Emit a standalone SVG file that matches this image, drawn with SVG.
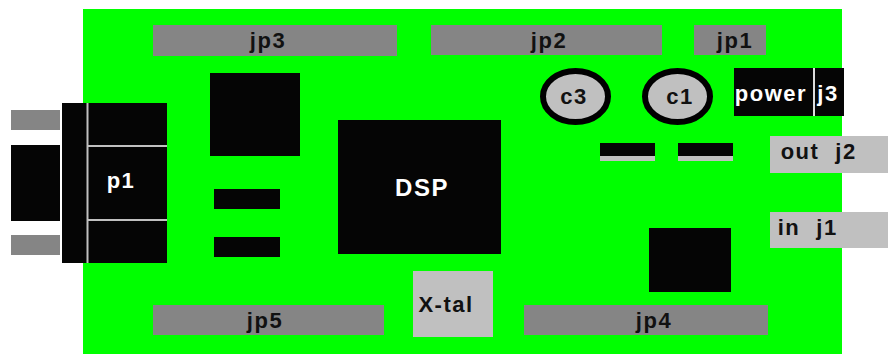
<svg xmlns="http://www.w3.org/2000/svg" width="888" height="354" viewBox="0 0 888 354">
<style>
text{font-family:"Liberation Sans",Arial,sans-serif;font-weight:bold;font-size:22px;letter-spacing:1.500px;text-anchor:middle;fill:#111}
.w{fill:#fff}
.k{fill:#050505}
.g{fill:#858585}
.l{fill:#c0c0c0}
.c{fill:#c0c0c0;stroke:#000;stroke-width:6}
.s{stroke:#c0c0c0;stroke-width:2;fill:none}
</style>
<rect width="888" height="354" fill="#fff"/>
<rect id="board" x="83" y="9" width="759" height="345" fill="#00ff00"/>
<g id="jp3"><rect class="g" x="153" y="25" width="244" height="31"/><text x="268" y="48">jp3</text></g>
<g id="jp2"><rect class="g" x="431" y="25" width="231" height="30"/><text x="549" y="48">jp2</text></g>
<g id="jp1"><rect class="g" x="694" y="25" width="72" height="30"/><text x="735" y="48">jp1</text></g>
<g id="c3"><ellipse class="c" cx="575.500" cy="96.500" rx="32.500" ry="25.500"/><text x="574" y="104">c3</text></g>
<g id="c1"><ellipse class="c" cx="677.500" cy="96.500" rx="32.500" ry="25.500"/><text x="680" y="104">c1</text></g>
<g id="j3"><rect class="k" x="734" y="68" width="110" height="48"/><line x1="814" y1="68" x2="814" y2="116" stroke="#ddd" stroke-width="2"/><text class="w" x="771" y="101">power</text><text class="w" x="828" y="101">j3</text></g>
<g id="cap1"><rect class="l" x="600" y="143" width="55" height="18"/><rect class="k" x="600" y="143" width="55" height="13"/></g>
<g id="cap2"><rect class="l" x="678" y="143" width="55" height="18"/><rect class="k" x="678" y="143" width="55" height="13"/></g>
<g id="j2"><rect class="l" x="770" y="136" width="118" height="37"/><text x="800" y="159">out</text><text x="846" y="159">j2</text></g>
<g id="j1"><rect class="l" x="770" y="212" width="118" height="36"/><text x="789" y="235">in</text><text x="827" y="235">j1</text></g>
<g id="u1"><rect class="k" x="210" y="73" width="90" height="83"/></g>
<g id="r1"><rect class="k" x="214" y="189" width="66" height="20"/></g>
<g id="r2"><rect class="k" x="214" y="237" width="66" height="20"/></g>
<g id="dsp"><rect class="k" x="338" y="120" width="163" height="134"/><text class="w" x="422" y="196" style="font-size:24px">DSP</text></g>
<g id="u2"><rect class="k" x="649" y="228" width="82" height="64"/></g>
<g id="xtal"><rect class="l" x="413" y="271" width="80" height="66"/><text x="446" y="312">X-tal</text></g>
<g id="jp5"><rect class="g" x="153" y="305" width="231" height="30"/><text x="265" y="328">jp5</text></g>
<g id="jp4"><rect class="g" x="524" y="305" width="244" height="30"/><text x="654" y="328">jp4</text></g>
<g id="p1">
<rect class="g" x="11" y="110" width="49" height="20"/>
<rect class="g" x="11" y="235" width="49" height="20"/>
<rect class="k" x="11" y="145" width="49" height="76"/>
<rect class="k" x="62" y="103" width="105" height="160"/>
<path class="s" d="M87.500 103V263M88 146H167M88 220H167"/>
<text class="w" x="121" y="188">p1</text>
</g>
</svg>
